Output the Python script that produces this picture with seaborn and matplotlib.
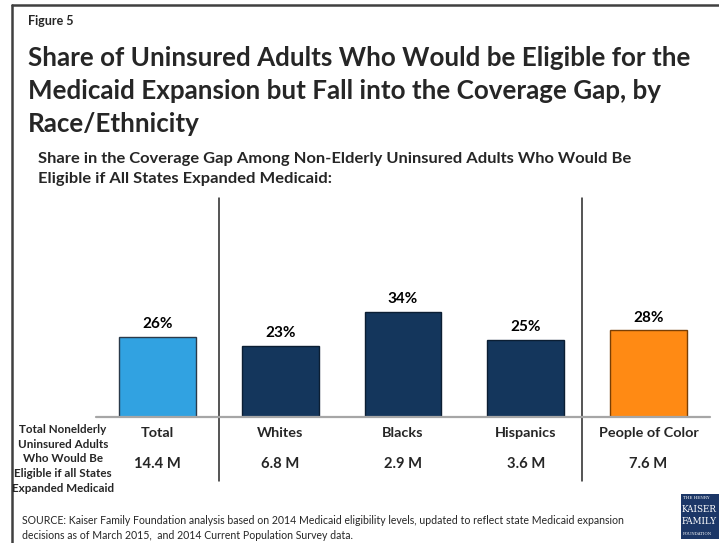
import matplotlib
matplotlib.use("Agg")
import matplotlib.pyplot as plt
import seaborn as sns
import pandas as pd
from matplotlib.lines import Line2D
from matplotlib.patches import Rectangle

categories = ["Total", "Whites", "Blacks", "Hispanics", "People of Color"]
shares = [26, 23, 34, 25, 28]
totals = ["14.4 M", "6.8 M", "2.9 M", "3.6 M", "7.6 M"]
colors = ["#31A2E1", "#14365C", "#14365C", "#14365C", "#FF8A14"]
edge_colors = ["#2A3A4A", "#0B1E33", "#0B1E33", "#0B1E33", "#7A3F05"]

W, H = 719, 543
sns.set_theme(style="white")
plt.rcParams["font.family"] = ["Lato", "DejaVu Sans"]

fig = plt.figure(figsize=(W / 100, H / 100), dpi=100)
fig.patch.set_facecolor("white")


def fx(px):
    return px / W


def fy(py):
    return 1 - py / H


# axes: x 96..710 px, y 198..417 px
ax_left, ax_right, ax_top, ax_bottom = 96, 710, 198, 417
ax = fig.add_axes([fx(ax_left), fy(ax_bottom), fx(ax_right - ax_left), (ax_bottom - ax_top) / H])
df = pd.DataFrame({"cat": categories, "share": shares})
sns.barplot(data=df, x="cat", y="share", hue="cat", palette=colors, legend=False,
            width=0.627, ax=ax, linewidth=1.0, saturation=1)
for patch, ec in zip(ax.patches, edge_colors):
    patch.set_edgecolor(ec)
ax.set_xlim(-0.5, 4.5)
ax.set_ylim(0, (ax_bottom - ax_top) / 3.09)
for s in ax.spines.values():
    s.set_visible(False)
ax.set_xticks([])
ax.set_yticks([])
ax.set_xlabel("")
ax.set_ylabel("")
ax.axhline(0, color="#A6A6A6", lw=1.6, zorder=5, clip_on=False)

# value labels
for i, v in enumerate(shares):
    ax.annotate(f"{v}%", (i, v), xytext=(0, 4), textcoords="offset points",
                ha="center", va="bottom", fontsize=11, fontweight="bold", color="black")

# dividers
tr = ax.get_xaxis_transform()
for xd in (0.5, 3.46):
    ax.plot([xd, xd], [-(481 - ax_bottom) / (ax_bottom - ax_top), 1.0], color="#262626",
            lw=1.1, transform=tr, clip_on=False)

# category and total labels
for i, (c, t) in enumerate(zip(categories, totals)):
    ax.text(i, -(433 - ax_bottom) / (ax_bottom - ax_top), c, transform=tr, ha="center",
            va="center", fontsize=10.4, fontweight="bold")
    ax.text(i, -(464 - ax_bottom) / (ax_bottom - ax_top), t, transform=tr, ha="center",
            va="center", fontsize=10.6, fontweight="bold")

# left side label
fig.text(fx(63), fy(459), "Total Nonelderly\nUninsured Adults\nWho Would Be\nEligible if all States\nExpanded Medicaid",
         ha="center", va="center", fontsize=8.4, fontweight="bold", linespacing=1.4)

# titles
fig.text(fx(28), fy(21), "Figure 5", ha="left", va="center", fontsize=9, fontweight="bold")
fig.text(fx(28), fy(91), "Share of Uninsured Adults Who Would be Eligible for the\n"
         "Medicaid Expansion but Fall into the Coverage Gap, by\nRace/Ethnicity",
         ha="left", va="center", fontsize=18.7, fontweight="bold", linespacing=1.45)
fig.text(fx(38), fy(169), "Share in the Coverage Gap Among Non-Elderly Uninsured Adults Who Would Be\n"
         "Eligible if All States Expanded Medicaid:", ha="left", va="center",
         fontsize=11.85, fontweight="bold", linespacing=1.55)

# source
fig.text(fx(22), fy(528), "SOURCE: Kaiser Family Foundation analysis based on 2014 Medicaid eligibility levels, updated to reflect state Medicaid expansion\n"
         "decisions as of March 2015,  and 2014 Current Population Survey data.",
         ha="left", va="center", fontsize=7.6, linespacing=1.45)

# frame
fig.add_artist(Line2D([fx(12), fx(12)], [fy(5), 0], color="#404040", lw=1.8))
fig.add_artist(Line2D([fx(12), 1], [fy(5), fy(5)], color="#404040", lw=1.8))

# logo
fig.add_artist(Rectangle((fx(681), fy(539)), fx(W - 681), (539 - 494) / H,
                         facecolor="#1C3767", edgecolor="none"))
fig.text(fx(683), fy(498), "THE HENRY", fontsize=3, color="white", family="DejaVu Serif", va="center")
fig.text(fx(682), fy(509), "KAISER", fontsize=6.3, color="white", family="DejaVu Serif", va="center")
fig.text(fx(682), fy(522), "FAMILY", fontsize=6.3, color="white", family="DejaVu Serif", va="center")
fig.text(fx(683), fy(534), "FOUNDATION", fontsize=2.8, color="white", family="DejaVu Serif", va="center")

fig.savefig("out.png", dpi=100)
